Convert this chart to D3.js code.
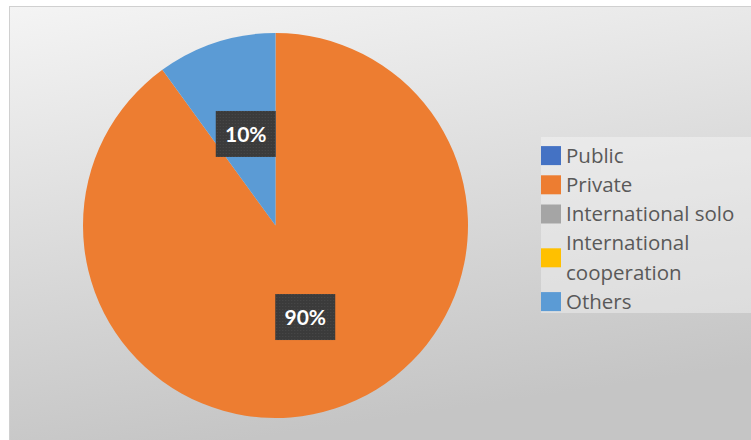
<!DOCTYPE html>
<html>
<head>
<meta charset="utf-8">
<script src="https://cdn.jsdelivr.net/npm/d3@7"></script>
<style>
  html, body { margin: 0; padding: 0; background: #ffffff; }
  svg { display: block; }
</style>
</head>
<body>
<svg id="chart" width="751" height="440"></svg>
<script>
// Funding source shares
const categories = ["Public", "Private", "International solo", "International cooperation", "Others"];
const shares = [0, 90, 0, 0, 10];
const colors = ["#4472C4", "#ED7D31", "#A5A5A5", "#FFC000", "#5B9BD5"];
const legendLines = [["Public"], ["Private"], ["International solo"], ["International", "cooperation"], ["Others"]];

const data = categories.map((c, i) => ({ name: c, value: shares[i], color: colors[i], lines: legendLines[i] }));

const svg = d3.select("#chart");
const W = 751, H = 440;

// Background panel with soft vertical-diagonal gradient
const defs = svg.append("defs");
const grad = defs.append("linearGradient").attr("id", "bg")
  .attr("x1", "0%").attr("y1", "0%").attr("x2", "25%").attr("y2", "100%");
grad.append("stop").attr("offset", "0%").attr("stop-color", "#f4f4f4");
grad.append("stop").attr("offset", "100%").attr("stop-color", "#c5c5c5");

// Dotted texture for the value label boxes
const pat = defs.append("pattern").attr("id", "dots")
  .attr("width", 3).attr("height", 3).attr("patternUnits", "userSpaceOnUse");
pat.append("rect").attr("width", 3).attr("height", 3).attr("fill", "#3b3b3b");
pat.append("rect").attr("x", 1).attr("y", 1).attr("width", 1).attr("height", 1).attr("fill", "#4a4a4a");

svg.append("rect")
  .attr("x", 9.5).attr("y", 6.5).attr("width", W).attr("height", H)
  .attr("fill", "url(#bg)").attr("stroke", "#d0d0d0").attr("stroke-width", 1);

// Pie
const cx = 275.5, cy = 225.5, radius = 192.5;
const pie = d3.pie().value(d => d.value).sort(null);
const arc = d3.arc().innerRadius(0).outerRadius(radius);
const arcs = pie(data);

const g = svg.append("g").attr("transform", `translate(${cx},${cy})`);
g.selectAll("path.slice")
  .data(arcs.filter(d => d.data.value > 0))
  .join("path")
  .attr("class", "slice")
  .attr("d", arc)
  .attr("fill", d => d.data.color)
  .attr("stroke", "none");

// Value labels in dark boxes at slice centroids
const total = d3.sum(shares);
const labels = g.selectAll("g.lbl")
  .data(arcs.filter(d => d.data.value > 0))
  .join("g")
  .attr("class", "lbl")
  .attr("transform", d => { const [x, y] = arc.centroid(d); return `translate(${x},${y})`; });

labels.append("rect")
  .attr("x", -30).attr("y", -23).attr("width", 60).attr("height", 46)
  .attr("fill", "url(#dots)");

labels.append("text")
  .attr("text-anchor", "middle")
  .attr("dy", "0.36em")
  .attr("font-family", "Lato, 'Open Sans', sans-serif")
  .attr("font-weight", "bold")
  .attr("font-size", 21)
  .attr("fill", "#ffffff")
  .text(d => Math.round(d.data.value / total * 100) + "%");

// Legend
const lgX = 541, lgY = 137;
svg.append("rect")
  .attr("x", lgX).attr("y", lgY).attr("width", W - lgX).attr("height", 176)
  .attr("fill", "#ffffff").attr("fill-opacity", 0.35);

const lineH = 29.2;
let row = 0;
const lg = svg.append("g").attr("font-family", "'Open Sans', sans-serif")
  .attr("font-size", 20.5).attr("fill", "#595959");
data.forEach(d => {
  const n = d.lines.length;
  const top = lgY + 4 + row * lineH;
  const mid = top + n * lineH / 2;
  lg.append("rect")
    .attr("x", lgX).attr("y", mid - 9.5).attr("width", 20).attr("height", 19)
    .attr("fill", d.color);
  d.lines.forEach((t, k) => {
    lg.append("text")
      .attr("x", 566)
      .attr("y", top + lineH * (k + 0.5))
      .attr("dy", "0.35em")
      .text(t);
  });
  row += n;
});
</script>
</body>
</html>
